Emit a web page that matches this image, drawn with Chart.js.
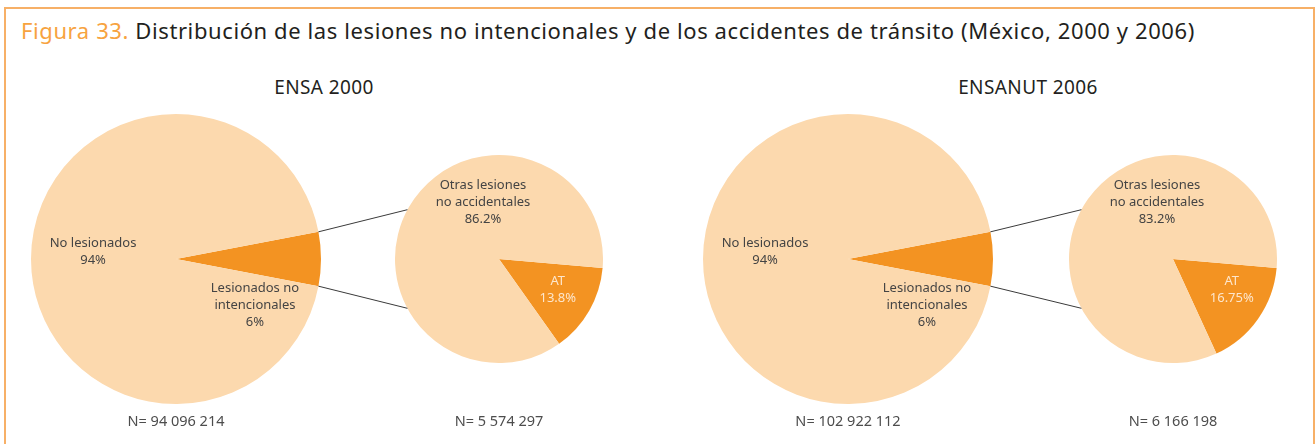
<!DOCTYPE html>
<html lang="es">
<head>
<meta charset="utf-8">
<script src="https://cdn.jsdelivr.net/npm/chart.js@4"></script>
<style>
  body { margin: 0; width: 1316px; height: 444px; position: relative; overflow: hidden; background: #fff; font-family: "Noto Sans", sans-serif; }
  #frame { position: absolute; left: 4px; top: 7px; width: 1307px; height: 460px; border-top: 2px solid #f7b067; border-left: 2px solid #f7b067; border-right: 2px solid #f7b067; }
  #title { position: absolute; left: 21px; top: 15px; font-size: 22px; letter-spacing: 0.6px; color: #231f20; white-space: nowrap; }
  #title .fig { color: #f7a33f; }
  .sub { position: absolute; top: 74px; width: 300px; margin-left: -150px; text-align: center; font-size: 19px; letter-spacing: 0.4px; color: #231f20; }
  .n { position: absolute; top: 410px; width: 200px; margin-left: -100px; text-align: center; font-size: 14.5px; color: #4d4d4d; }
  .pie { position: absolute; }
  #links { position: absolute; left: 0; top: 0; pointer-events: none; }
</style>
</head>
<body>
<div id="frame"></div>
<div id="title"><span class="fig">Figura 33.</span> Distribución de las lesiones no intencionales y de los accidentes de tránsito (México, 2000 y 2006)</div>
<div class="sub" style="left:324px">ENSA 2000</div>
<div class="sub" style="left:1028px">ENSANUT 2006</div>
<canvas id="links" width="1316" height="444"></canvas>

<script>
// Datos
const injuryLabels = [['Lesionados no', 'intencionales'], ['No lesionados']];
const injury2000 = [6, 94];
const injury2006 = [6, 94];

const atLabels = [['AT'], ['Otras lesiones', 'no accidentales']];
const at2000 = [13.8, 86.2];
const at2006 = [16.75, 83.2];

const sampleSizes = ['N= 94 096 214', 'N= 5 574 297', 'N= 102 922 112', 'N= 6 166 198'];

const orange = '#f39322';
const peach = '#fcd9ae';

// Étiquettes dans les secteurs
const sliceLabels = {
    id: 'sliceLabels',
    afterDraw(chart, args, opts) {
        const ctx = chart.ctx;
        const meta = chart.getDatasetMeta(0);
        const values = chart.data.datasets[0].data;
        ctx.save();
        ctx.font = '13px "Noto Sans"';
        ctx.textAlign = 'center';
        ctx.textBaseline = 'middle';
        (opts.items || []).forEach(it => {
            const arc = meta.data[it.index];
            const a = it.angle * Math.PI / 180;
            const cx = arc.x + Math.cos(a) * arc.outerRadius * it.r;
            const cy = arc.y + Math.sin(a) * arc.outerRadius * it.r;
            const lines = [].concat(chart.data.labels[it.index], values[it.index] + '%');
            ctx.fillStyle = it.color;
            lines.forEach((l, k) => ctx.fillText(l, cx, cy + (k - (lines.length - 1) / 2) * 17));
        });
        ctx.restore();
    }
};

function makePie(left, top, size, labels, values, rotation, items) {
    const canvas = document.createElement('canvas');
    canvas.className = 'pie';
    canvas.width = size;
    canvas.height = size;
    canvas.style.left = left + 'px';
    canvas.style.top = top + 'px';
    document.body.insertBefore(canvas, document.getElementById('links'));
    const chart = new Chart(canvas.getContext('2d'), {
        type: 'pie',
        data: {
            labels,
            datasets: [{ data: values, backgroundColor: [orange, peach], borderWidth: 0 }]
        },
        options: {
            responsive: false,
            animation: false,
            events: [],
            rotation,
            layout: { padding: 0 },
            plugins: {
                legend: { display: false },
                tooltip: { enabled: false },
                sliceLabels: { items }
            }
        },
        plugins: [sliceLabels]
    });
    chart.box = { left, top };
    return chart;
}

function addN(text, x) {
    const d = document.createElement('div');
    d.className = 'n';
    d.style.left = x + 'px';
    d.textContent = text;
    document.body.appendChild(d);
}

const bigItems = [
    { index: 1, angle: 184.8, r: 0.574, color: '#444' },
    { index: 0, angle: 30.2, r: 0.63, color: '#444' }
];
const smallItems = [
    { index: 1, angle: -105.7, r: 0.57, color: '#444' },
    { index: 0, angle: 28, r: 0.64, color: '#fde6cc' }
];

// Lignes entre le secteur orange et le petit camembert
function drawLinks(big, small) {
    const ctx = document.getElementById('links').getContext('2d');
    const arc = big.getDatasetMeta(0).data[0];
    const s = small.getDatasetMeta(0).data[0];
    const bx = big.box.left + arc.x, by = big.box.top + arc.y;
    const sx = small.box.left + s.x, sy = small.box.top + s.y;
    const a = 28.3 * Math.PI / 180;
    ctx.strokeStyle = '#3a3a3a';
    ctx.lineWidth = 1;
    ctx.beginPath();
    ctx.moveTo(bx + Math.cos(arc.startAngle) * arc.outerRadius, by + Math.sin(arc.startAngle) * arc.outerRadius);
    ctx.lineTo(sx + Math.cos(Math.PI + a) * s.outerRadius, sy + Math.sin(Math.PI + a) * s.outerRadius);
    ctx.moveTo(bx + Math.cos(arc.endAngle) * arc.outerRadius, by + Math.sin(arc.endAngle) * arc.outerRadius);
    ctx.lineTo(sx + Math.cos(Math.PI - a) * s.outerRadius, sy + Math.sin(Math.PI - a) * s.outerRadius);
    ctx.stroke();
}

const big2000 = makePie(31, 114, 290, injuryLabels, injury2000, 90 - injury2000[0] * 1.8, bigItems);
const small2000 = makePie(395, 155, 208, atLabels, at2000, 95, smallItems);
const big2006 = makePie(703, 114, 290, injuryLabels, injury2006, 90 - injury2006[0] * 1.8, bigItems);
const small2006 = makePie(1069, 155, 208, atLabels, at2006, 95, smallItems);

drawLinks(big2000, small2000);
drawLinks(big2006, small2006);

addN(sampleSizes[0], 176);
addN(sampleSizes[1], 499);
addN(sampleSizes[2], 848);
addN(sampleSizes[3], 1173);
</script>
</body>
</html>
